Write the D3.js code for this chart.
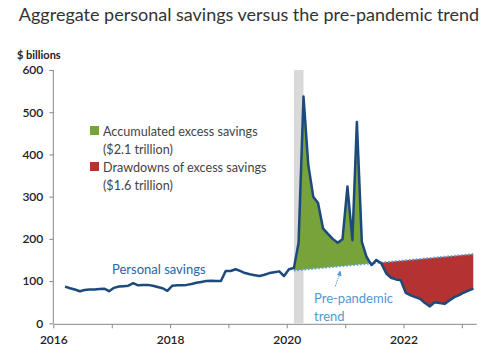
<!DOCTYPE html>
<html>
  <head>
    <meta charset="utf-8" />
    <title>Aggregate personal savings versus the pre-pandemic trend</title>
    <script src="https://d3js.org/d3.v7.min.js"></script>
    <style>
      body {
        margin: 0;
        background: #fff;
      }
      svg text {
        font-family: Lato, "Noto Sans", sans-serif;
      }
      .title {
        font-size: 18px;
        fill: #333;
      }
      .axis text {
        font-size: 12px;
        fill: #222;
        font-weight: 600;
      }
      .axis path,
      .axis line {
        stroke: #888;
      }
      .legend text {
        font-size: 12.6px;
        fill: #444;
      }
    </style>
  </head>
  <body>
    <svg width="489" height="359"></svg>
    <script>
      // monthly personal savings, $ billions, Mar 2016 .. Mar 2023
      const firstMonth = new Date(2016, 2, 15);
      const savings = [
        87, 83, 80, 76, 79, 80, 80, 81, 82, 76,
        84, 87, 88, 89, 95, 90, 91, 91, 89, 86, 83, 77,
        89, 90, 90, 91, 93, 96, 98, 100, 101, 100, 100, 124,
        124, 128, 124, 119, 116, 114, 112, 115, 119, 121, 123, 112,
        128, 131, 190, 537, 375, 300, 285, 225, 212, 200, 191, 199,
        324, 197, 477, 193, 157, 138, 150, 142, 118, 108, 104, 102,
        72, 66, 62, 58, 48, 40, 50, 48, 46, 54, 62, 67,
        73, 78, 82,
      ];
      // pre-pandemic trend (straight line between its ends)
      const trendDates = [new Date(2020, 1, 15), new Date(2023, 2, 15)];
      const trendValues = [125, 164];
      // recession shading
      const recession = [new Date(2020, 1, 15), new Date(2020, 3, 15)];
      // periods for the two fills
      const excessRange = [new Date(2020, 1, 1), new Date(2021, 5, 30)];
      const drawdownRange = [new Date(2021, 6, 1), new Date(2023, 2, 31)];
      const yTicks = [0, 100, 200, 300, 400, 500, 600];
      const xLabelYears = [2016, 2018, 2020, 2022];

      const data = savings.map((v, i) => ({
        date: d3.timeMonth.offset(firstMonth, i),
        value: v,
      }));
      const trend = trendDates.map((d, i) => ({ date: d, value: trendValues[i] }));

      const svg = d3.select("svg");
      const x = d3
        .scaleTime()
        .domain([new Date(2016, 0, 1), new Date(2023, 3, 4)])
        .range([53.3, 476.7]);
      const y = d3.scaleLinear().domain([0, 600]).range([323.3, 70]);

      svg
        .append("text")
        .attr("class", "title")
        .attr("x", 249)
        .attr("y", 21)
        .attr("text-anchor", "middle")
        .text("Aggregate personal savings versus the pre-pandemic trend");

      svg
        .append("text")
        .attr("x", 17)
        .attr("y", 59)
        .style("font-size", "11px")
        .style("font-weight", 700)
        .style("fill", "#222")
        .text("$ billions");

      // recession bar
      svg
        .append("rect")
        .attr("x", x(recession[0]))
        .attr("width", x(recession[1]) - x(recession[0]))
        .attr("y", y(600))
        .attr("height", y(0) - y(600))
        .attr("fill", "#d9d9d9");

      const defs = svg.append("defs");

      // clip: everything above the trend line
      defs
        .append("clipPath")
        .attr("id", "aboveTrend")
        .append("path")
        .attr(
          "d",
          d3
            .area()
            .x((d) => x(d.date))
            .y0(0)
            .y1((d) => y(d.value))(trend)
        );

      // clip: everything above savings during drawdowns
      const drawData = data.filter(
        (d) => d.date >= drawdownRange[0] && d.date <= drawdownRange[1]
      );
      defs
        .append("clipPath")
        .attr("id", "aboveSavings")
        .append("path")
        .attr(
          "d",
          d3
            .area()
            .x((d) => x(d.date))
            .y0(0)
            .y1((d) => y(d.value))(drawData)
        );

      const excessData = data.filter(
        (d) => d.date >= excessRange[0] && d.date <= excessRange[1]
      );
      svg
        .append("path")
        .attr("clip-path", "url(#aboveTrend)")
        .attr("fill", "#78a23a")
        .attr(
          "d",
          d3
            .area()
            .x((d) => x(d.date))
            .y0(y(0))
            .y1((d) => y(d.value))(excessData)
        );

      svg
        .append("path")
        .attr("clip-path", "url(#aboveSavings)")
        .attr("fill", "#b53232")
        .attr(
          "d",
          d3
            .area()
            .x((d) => x(d.date))
            .y0(y(0))
            .y1((d) => y(d.value))(trend)
        );

      // axes
      const yAxis = svg
        .append("g")
        .attr("class", "axis")
        .attr("transform", `translate(${x.range()[0]},0)`)
        .call(d3.axisLeft(y).tickValues(yTicks).tickSize(4).tickPadding(6));
      yAxis.select(".domain").attr("d", `M0,${y(600)}V${y(0)}`);

      const xAxis = svg
        .append("g")
        .attr("class", "axis")
        .attr("transform", `translate(0,${y(0) + 1})`)
        .call(
          d3
            .axisBottom(x)
            .ticks(d3.timeYear)
            .tickSize(4)
            .tickPadding(7)
            .tickFormat((d) =>
              xLabelYears.includes(d.getFullYear()) ? d.getFullYear() : ""
            )
        );
      xAxis.select(".domain").attr("d", `M${x.range()[0]},0H${x.range()[1]}`);

      // trend dotted line
      svg
        .append("path")
        .datum(trend)
        .attr("fill", "none")
        .attr("stroke", "#5aa0dc")
        .attr("stroke-width", 2)
        .attr("stroke-dasharray", "1.5,2")
        .attr(
          "d",
          d3
            .line()
            .x((d) => x(d.date))
            .y((d) => y(d.value))
        );

      // savings line
      svg
        .append("path")
        .datum(data)
        .attr("fill", "none")
        .attr("stroke", "#1c4a7c")
        .attr("stroke-width", 2.5)
        .attr("stroke-linejoin", "round")
        .attr(
          "d",
          d3
            .line()
            .x((d) => x(d.date))
            .y((d) => y(d.value))
        );

      // legend
      const legend = svg.append("g").attr("class", "legend");
      const legendItems = [
        { color: "#78a23a", lines: ["Accumulated excess savings", "($2.1 trillion)"] },
        { color: "#b53232", lines: ["Drawdowns of excess savings", "($1.6 trillion)"] },
      ];
      legendItems.forEach((item, i) => {
        const top = 126 + i * 36;
        legend
          .append("rect")
          .attr("x", 90)
          .attr("y", top)
          .attr("width", 9)
          .attr("height", 9)
          .attr("fill", item.color);
        item.lines.forEach((t, j) => {
          legend
            .append("text")
            .attr("x", 103)
            .attr("y", top + 9.5 + j * 18)
            .text(t);
        });
      });

      // annotations
      svg
        .append("text")
        .attr("x", 112)
        .attr("y", 274)
        .style("font-size", "13px")
        .style("fill", "#2a64a4")
        .text("Personal savings");

      const annot = svg.append("g").style("font-size", "13px").style("fill", "#4f98d6");
      annot.append("text").attr("x", 314).attr("y", 303).text("Pre-pandemic");
      annot.append("text").attr("x", 314).attr("y", 321).text("trend");

      const trendAt = d3.scaleTime().domain(trendDates).range(trendValues);
      const tipDate = new Date(2020, 11, 1);
      const tipX = x(tipDate);
      const tipY = y(trendAt(tipDate)) + 4;
      svg
        .append("line")
        .attr("x1", tipX - 5)
        .attr("y1", tipY + 16)
        .attr("x2", tipX)
        .attr("y2", tipY + 2)
        .attr("stroke", "#4f98d6")
        .attr("stroke-width", 1)
        .attr("stroke-dasharray", "1.5,1");
      svg
        .append("path")
        .attr("d", `M${tipX},${tipY} l-3.2,4.5 l4.6,1.6 z`)
        .attr("fill", "#4f98d6");
    </script>
  </body>
</html>
